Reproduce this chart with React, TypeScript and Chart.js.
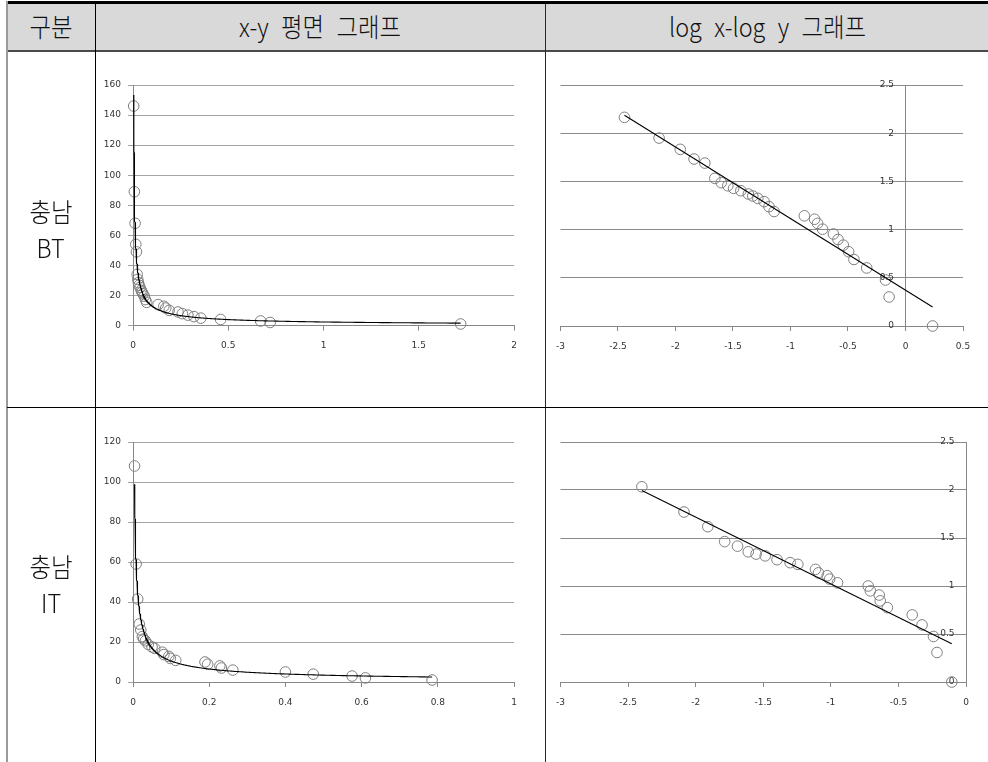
import React, { useEffect, useRef } from "react";
import { Chart, registerables } from "chart.js";

Chart.register(...registerables);

// ---- 충남 BT (x, y) ----
const BT_X = [0.0036, 0.0072, 0.011, 0.0145, 0.018, 0.022, 0.025, 0.0285, 0.032, 0.037, 0.043, 0.047, 0.052, 0.059, 0.065, 0.072, 0.132, 0.162, 0.172, 0.19, 0.236, 0.259, 0.288, 0.32, 0.356, 0.46, 0.67, 0.72, 1.72];
const BT_Y = [146, 89, 68, 54, 49, 34, 30.7, 28.5, 26.8, 25.3, 23.4, 22.3, 21.1, 19.5, 17.3, 15.4, 13.9, 12.8, 11.6, 10.1, 9.0, 7.9, 6.9, 5.9, 4.9, 4.0, 3.0, 2.0, 1.0];

// ---- 충남 IT (x, y) ----
const IT_X = [0.004, 0.0082, 0.0123, 0.0164, 0.0204, 0.0245, 0.028, 0.0327, 0.04, 0.05, 0.057, 0.077, 0.081, 0.094, 0.098, 0.112, 0.189, 0.196, 0.228, 0.232, 0.262, 0.4, 0.473, 0.575, 0.61, 0.785];
const IT_Y = [108, 59, 41.5, 29, 26, 22.7, 21.5, 20.6, 18.8, 17.5, 16.8, 14.9, 13.7, 12.8, 11.8, 10.8, 10.0, 8.9, 8.05, 7.0, 5.95, 5.0, 3.93, 2.98, 2.03, 1.0];

// axis ranges [min, max, step]
const XY_BT_X_AXIS = [0, 2, 0.5];
const XY_BT_Y_AXIS = [0, 160, 20];
const LOG_BT_X_AXIS = [-3, 0.5, 0.5];
const LOG_BT_Y_AXIS = [0, 2.5, 0.5];
const XY_IT_X_AXIS = [0, 1, 0.2];
const XY_IT_Y_AXIS = [0, 120, 20];
const LOG_IT_X_AXIS = [-3, 0, 0.5];
const LOG_IT_Y_AXIS = [0, 2.5, 0.5];

// table texts
const HEADERS = ["구분", "x-y 평면 그래프", "log x-log y 그래프"];
const ROW_LABELS = [["충남", "BT"], ["충남", "IT"]];

// power trendline (least squares in log10 space, as Excel does)
function powerFit(xs: number[], ys: number[]) {
  const lx = xs.map((v) => Math.log10(v));
  const ly = ys.map((v) => Math.log10(v));
  const n = lx.length;
  const mx = lx.reduce((a, b) => a + b, 0) / n;
  const my = ly.reduce((a, b) => a + b, 0) / n;
  let sxy = 0, sxx = 0;
  for (let i = 0; i < n; i++) {
    sxy += (lx[i] - mx) * (ly[i] - my);
    sxx += (lx[i] - mx) * (lx[i] - mx);
  }
  const b = sxy / sxx;
  const a = my - b * mx;
  return { a, b };
}

const FONT = "'DejaVu Sans', sans-serif";
const TICK_COLOR = "#333";
const MARKER = "#7f7f7f";

type Spec = {
  left: number; top: number; width: number; height: number;
  padding: { left: number; right: number; top: number; bottom: number };
  yWidth: number;
  xs: number[]; ys: number[];
  log: boolean;
  xr: number[]; yr: number[];
  gridColor: string;
};

const fmt = (v: any) => String(Math.round(Number(v) * 1000) / 1000);
// labels of an axis placed at x = 0 get no automatic gap from the axis line
const fmtGap = (v: any) => fmt(v) + "    ";

function buildConfig(s: Spec): any {
  const fit = powerFit(s.xs, s.ys);
  const minX = Math.min(...s.xs);
  const maxX = Math.max(...s.xs);
  let pts: { x: number; y: number }[];
  let trend: { x: number; y: number }[] = [];
  if (s.log) {
    pts = s.xs.map((x, i) => ({ x: Math.log10(x), y: Math.log10(s.ys[i]) }));
    const l0 = Math.log10(minX), l1 = Math.log10(maxX);
    trend = [
      { x: l0, y: fit.a + fit.b * l0 },
      { x: l1, y: fit.a + fit.b * l1 },
    ];
  } else {
    pts = s.xs.map((x, i) => ({ x, y: s.ys[i] }));
    const N = 400;
    for (let i = 0; i < N; i++) {
      const x = minX * Math.pow(maxX / minX, i / (N - 1));
      trend.push({ x, y: Math.pow(10, fit.a) * Math.pow(x, fit.b) });
    }
  }
  const tickFont = { family: FONT, size: 9 };
  const xScale: any = {
    type: "linear",
    min: s.xr[0], max: s.xr[1],
    ticks: { stepSize: s.xr[2], font: tickFont, color: TICK_COLOR, padding: 10, maxRotation: 0, autoSkip: false, callback: fmt },
    grid: { display: true, drawOnChartArea: false, drawTicks: true, tickLength: 5, color: "#878787" },
    border: { display: true, color: "#878787", width: 1 },
    afterFit: (sc: any) => { sc.height = 30; },
  };
  const yScale: any = {
    type: "linear",
    min: s.yr[0], max: s.yr[1],
    ticks: { stepSize: s.yr[2], font: tickFont, color: TICK_COLOR, padding: 7, autoSkip: false, callback: s.log ? fmtGap : fmt },
    grid: { display: true, drawTicks: true, tickLength: 5, color: s.gridColor },
    border: { display: true, color: "#878787", width: 1 },
  };
  if (s.log) {
    yScale.position = { x: 0 };
  } else {
    yScale.position = "left";
    yScale.afterFit = (sc: any) => { sc.width = s.yWidth; };
  }
  return {
    type: "scatter",
    data: {
      datasets: [
        { data: trend, showLine: true, borderColor: "#000", borderWidth: 1.1, pointRadius: 0, pointHoverRadius: 0, fill: false, tension: 0, clip: false },
        { data: pts, showLine: false, pointRadius: 5.3, pointHoverRadius: 5.3, pointStyle: "circle", borderColor: MARKER, backgroundColor: "rgba(0,0,0,0)", borderWidth: 1, clip: false },
      ],
    },
    options: {
      animation: false,
      responsive: false,
      devicePixelRatio: 1,
      events: [],
      layout: { padding: s.padding },
      plugins: { legend: { display: false }, tooltip: { enabled: false } },
      scales: { x: xScale, y: yScale },
    },
  };
}

function ChartBox({ spec }: { spec: Spec }) {
  const ref = useRef<HTMLCanvasElement>(null);
  useEffect(() => {
    if (!ref.current) return;
    const c = new Chart(ref.current, buildConfig(spec));
    return () => c.destroy();
  }, []);
  return (
    <canvas
      ref={ref}
      width={spec.width}
      height={spec.height}
      style={{ position: "absolute", left: spec.left, top: spec.top, width: spec.width, height: spec.height }}
    />
  );
}

const SPECS: Spec[] = [
  {
    left: 96, top: 53, width: 448, height: 354,
    padding: { left: 0, right: 30, top: 32, bottom: 51.5 }, yWidth: 37,
    xs: BT_X, ys: BT_Y, log: false, xr: XY_BT_X_AXIS, yr: XY_BT_Y_AXIS, gridColor: "#a3a3a3",
  },
  {
    left: 546, top: 53, width: 442, height: 354,
    padding: { left: 13, right: 25, top: 32, bottom: 51 }, yWidth: 0,
    xs: BT_X, ys: BT_Y, log: true, xr: LOG_BT_X_AXIS, yr: LOG_BT_Y_AXIS, gridColor: "#8a8a8a",
  },
  {
    left: 96, top: 408, width: 448, height: 354,
    padding: { left: 0, right: 30, top: 34, bottom: 50 }, yWidth: 37,
    xs: IT_X, ys: IT_Y, log: false, xr: XY_IT_X_AXIS, yr: XY_IT_Y_AXIS, gridColor: "#a3a3a3",
  },
  {
    left: 546, top: 408, width: 442, height: 354,
    padding: { left: 10.5, right: 22, top: 34, bottom: 50 }, yWidth: 0,
    xs: IT_X, ys: IT_Y, log: true, xr: LOG_IT_X_AXIS, yr: LOG_IT_Y_AXIS, gridColor: "#8a8a8a",
  },
];

const KFONT = "'Noto Sans CJK KR', 'Noto Sans', sans-serif";

function Label({ text, cx, cy }: { text: string; cx: number; cy: number }) {
  return (
    <div
      style={{
        position: "absolute", left: cx - 200, top: cy - 20, width: 400, height: 40,
        display: "flex", alignItems: "center", justifyContent: "center",
        fontFamily: KFONT, fontWeight: 300, fontSize: 26, color: "#111",
        whiteSpace: "pre", lineHeight: "40px", wordSpacing: "8px",
      }}
    >
      <span style={{ display: "inline-block", transform: "scaleX(0.9)" }}>{text}</span>
    </div>
  );
}

export default function App() {
  const line = (l: number, t: number, w: number, h: number, c: string) => (
    <div style={{ position: "absolute", left: l, top: t, width: w, height: h, background: c }} />
  );
  return (
    <div style={{ position: "absolute", left: 0, top: 0, width: 988, height: 762, overflow: "hidden", background: "#fff" }}>
      {line(7, 4, 981, 46, "#d9d9d9")}
      {line(7, 1, 981, 3, "#000")}
      {line(7, 50, 981, 2, "#4a4a4a")}
      {line(6, 1, 2, 761, "#9a9a9a")}
      {line(95, 4, 1, 758, "#000")}
      {line(545, 4, 1, 758, "#2a2a2a")}
      {line(7, 407, 981, 1, "#000")}
      {SPECS.map((s, i) => <ChartBox key={i} spec={s} />)}
      <Label text={HEADERS[0]} cx={51} cy={26} />
      <Label text={HEADERS[1]} cx={320} cy={26} />
      <Label text={HEADERS[2]} cx={768} cy={26} />
      <Label text={ROW_LABELS[0][0]} cx={51} cy={211} />
      <Label text={ROW_LABELS[0][1]} cx={51} cy={247} />
      <Label text={ROW_LABELS[1][0]} cx={51} cy={566} />
      <Label text={ROW_LABELS[1][1]} cx={51} cy={602} />
    </div>
  );
}
